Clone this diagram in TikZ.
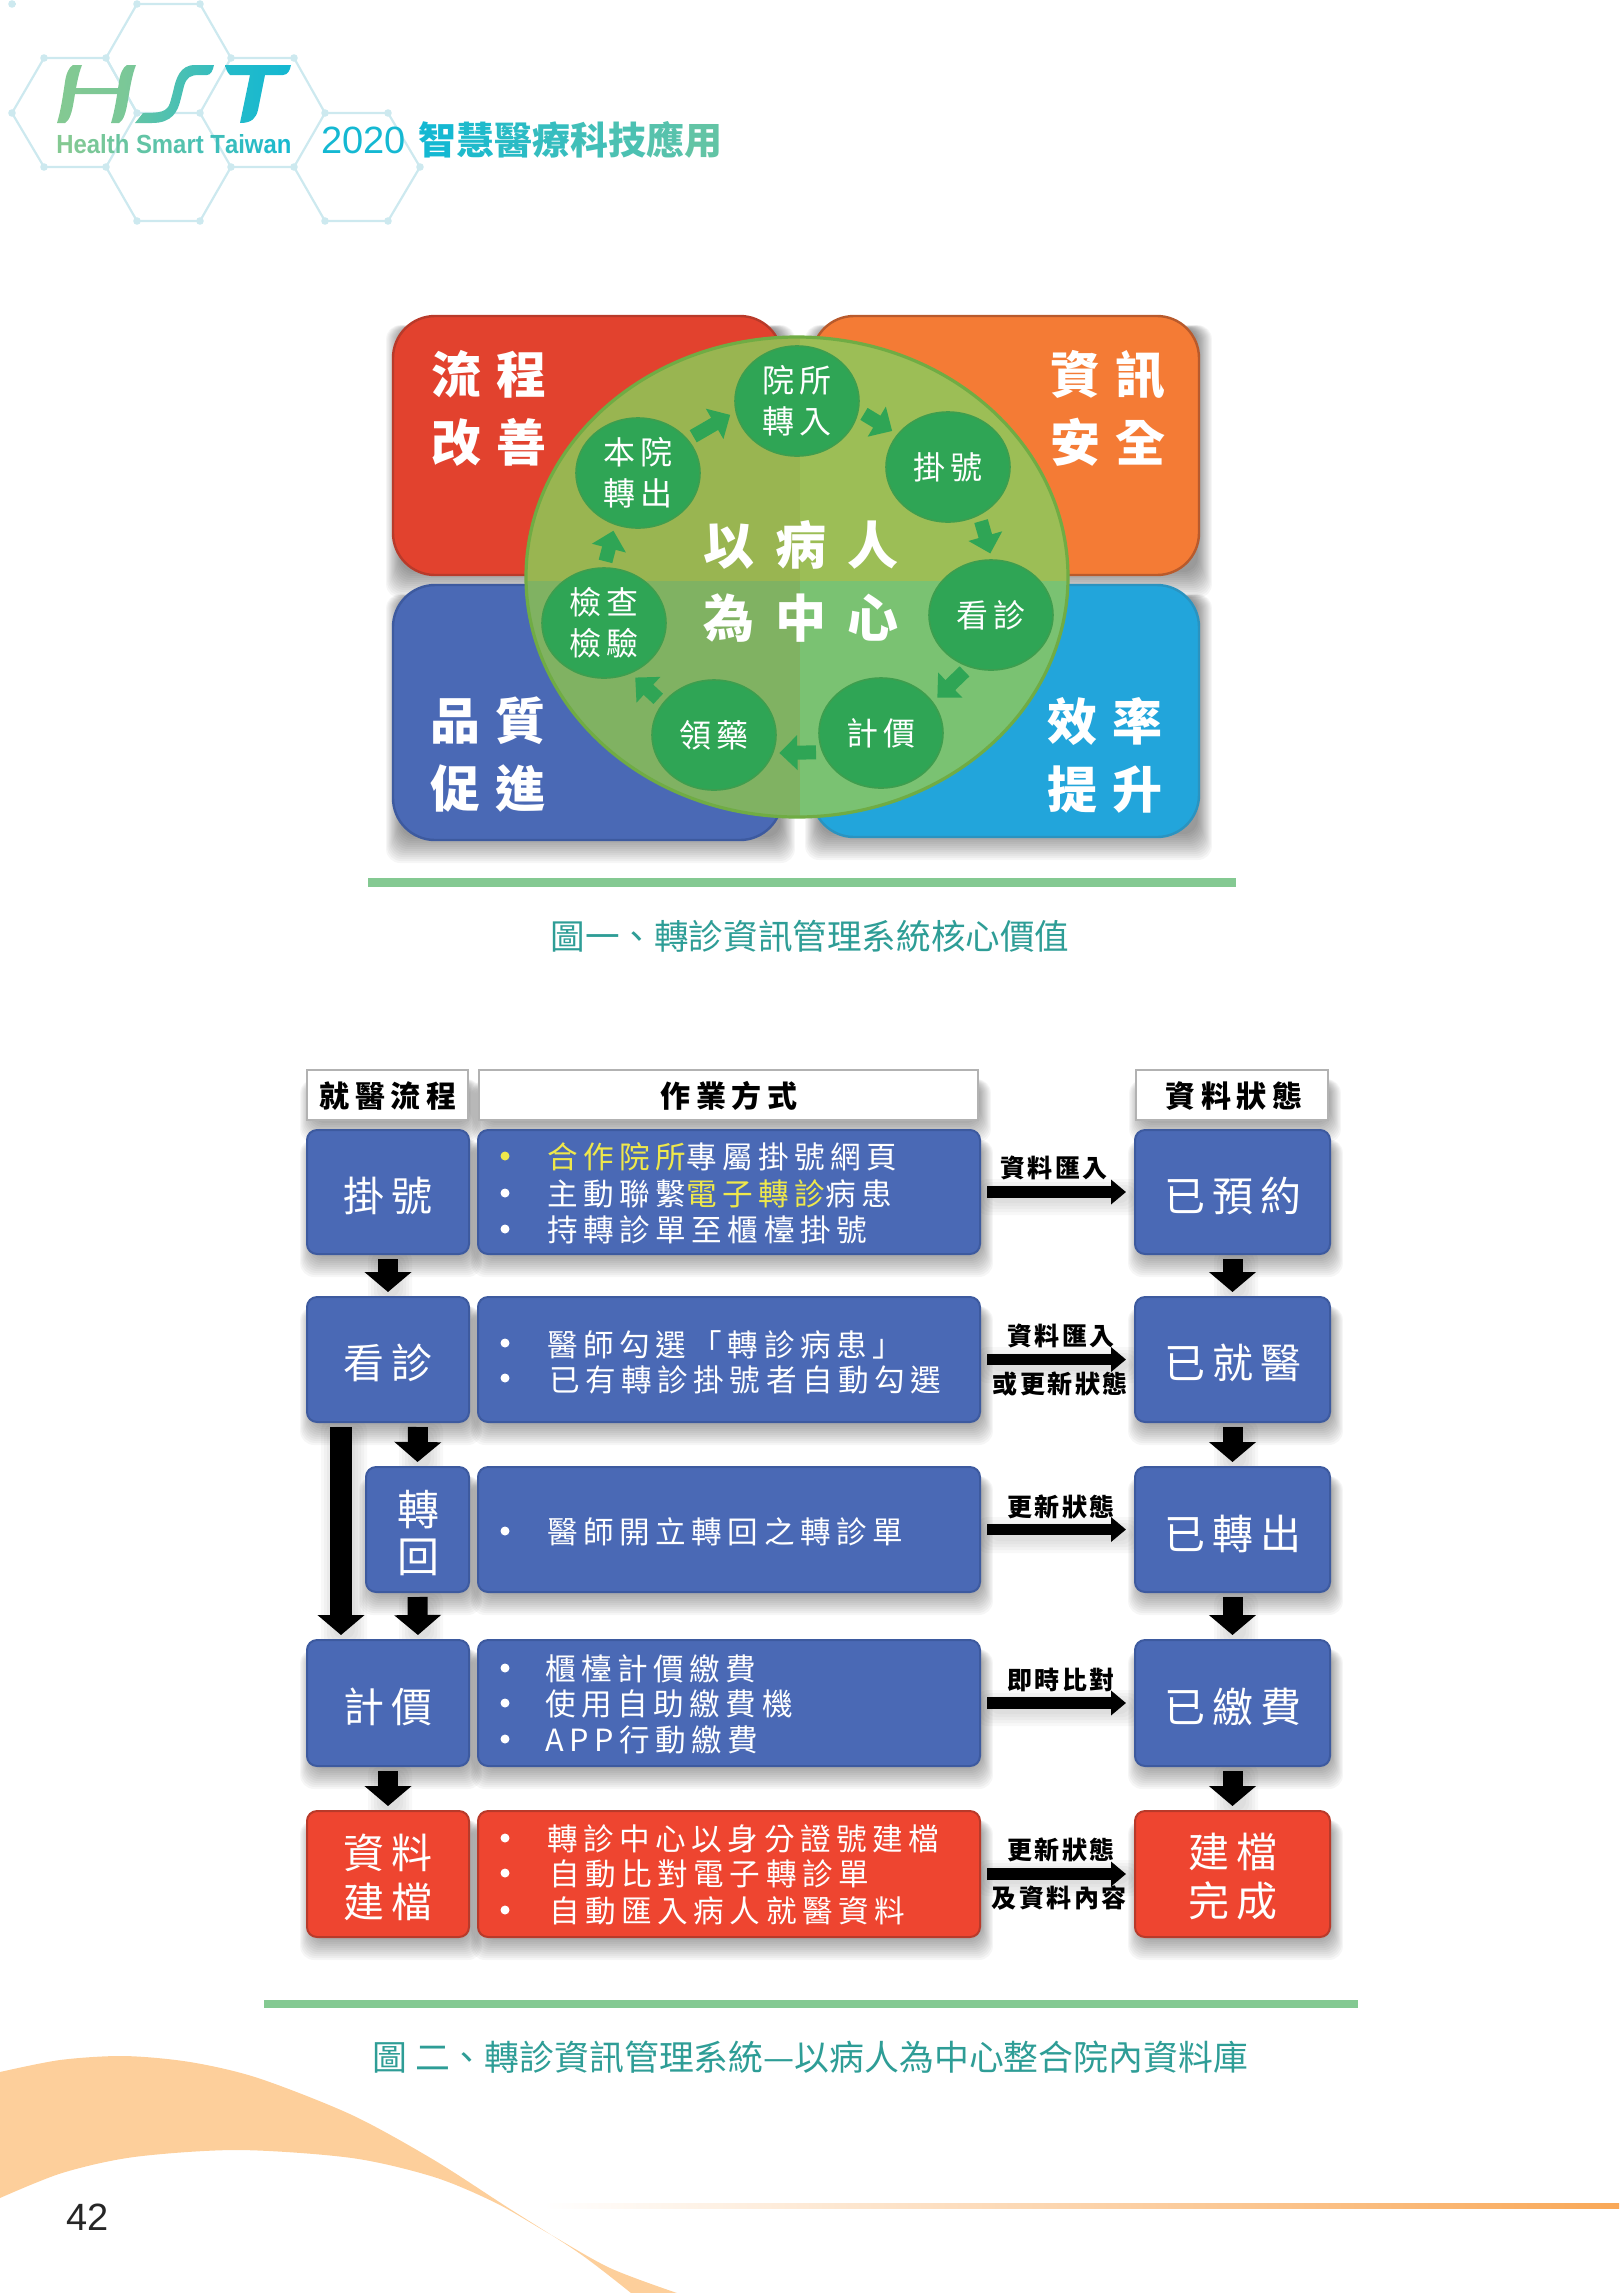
\documentclass[tikz,border=0pt]{standalone}
\usepackage{fontspec}
\usepackage{graphicx}
\usetikzlibrary{arrows.meta,shapes.geometric}
\setmainfont{Noto Sans CJK TC}
\newfontfamily\cjka[LetterSpace=10]{Noto Sans CJK TC}
\newfontfamily\cjkb[LetterSpace=18]{Noto Sans CJK TC}
\newfontfamily\cjkc[LetterSpace=30]{Noto Sans CJK TC}
\newfontfamily\cjkd[LetterSpace=42]{Noto Sans CJK TC}
\newfontfamily\arial{Liberation Sans}
\definecolor{hexc}{HTML}{CDE9EF}
\definecolor{lgreen}{HTML}{84C992}
\definecolor{lcyan}{HTML}{14B8D2}
\definecolor{capc}{HTML}{2E9D96}
\definecolor{peach}{HTML}{FDCF9B}
\definecolor{orangeL}{HTML}{F9A857}
\definecolor{bfill}{HTML}{4A69B5}
\definecolor{bline}{HTML}{3D5A9F}
\definecolor{rfill}{HTML}{EE4530}
\definecolor{rline}{HTML}{B83A2A}
\definecolor{ofill}{HTML}{F47B35}
\definecolor{oline}{HTML}{B85A2C}
\definecolor{sfill}{HTML}{22A5DB}
\definecolor{sline}{HTML}{2A93C0}
\definecolor{yel}{HTML}{EFE84B}
\definecolor{cfill}{HTML}{2FA555}
\definecolor{cline}{HTML}{3E9E4E}
\newcommand{\gl}[2]{\textcolor{lcyan!#1!lgreen}{#2}}
\newcommand{\softshadow}[4]{%
  \foreach \e in {-8,-6,...,18}{%
    \fill[black,opacity=.034,rounded corners=7pt] ({#1-.55*\e+3},{#2-.1*\e+11}) rectangle ({#3+.55*\e+3},{#4+\e+5});}}
\newcommand{\softarrow}[4]{%
  \foreach \e in {0,3,6,9,12}{%
    \fill[black,opacity=.026,rounded corners=5pt] ({#1-\e+3},{#2-\e+5}) rectangle ({#3+\e+3},{#4+\e+5});}}
\tikzset{
  hexline/.style={hexc,line width=1.1pt},
  corner/.style={rectangle,rounded corners=21pt,line width=1.2pt,inner sep=0pt},
  rbox/.style={rectangle,rounded corners=5pt,fill=bfill,draw=bline,line width=1pt,inner sep=0pt},
  redbox/.style={rbox,fill=rfill,draw=rline},
  headbox/.style={rectangle,fill=white,draw=black!30,line width=1.2pt,inner sep=0pt},
  cnode/.style={ellipse,fill=cfill,draw=cline,line width=.8pt,inner sep=0pt,minimum width=62pt,minimum height=55pt,text=white,align=center,font=\cjkb\fontsize{16pt}{20.5pt}\selectfont},
  garrow/.style={draw=cfill,line width=7pt,-{Triangle[length=9pt,width=17pt]},shorten <=3pt,shorten >=3pt},
  vblock/.style={draw=black,line width=10pt,-{Triangle[length=10pt,width=23pt]},shorten <=2pt,shorten >=2pt},
  hblock/.style={draw=black,line width=5.8pt,-{Triangle[length=7.5pt,width=12pt]},shorten <=3pt,shorten >=4pt},
  bigl/.style={text=white,inner sep=0pt,align=center,font=\cjkc\fontsize{25pt}{34pt}\selectfont\bfseries},
  corel/.style={text=white,inner sep=0pt,align=center,font=\cjkd\fontsize{25.5pt}{36.5pt}\selectfont\bfseries},
  boxl/.style={text=white,inner sep=0pt,align=center,font=\cjkb\fontsize{20.5pt}{24.5pt}\selectfont},
  headl/.style={text=black,inner sep=0pt,font=\cjkb\fontsize{15pt}{18pt}\selectfont\bfseries},
  linel/.style={text=white,inner sep=0pt,anchor=west,font=\cjkb\fontsize{15.3pt}{18pt}\selectfont},
  bull/.style={circle,fill=white,inner sep=0pt,minimum size=4.5pt},
  arrl/.style={text=black,inner sep=0pt,font=\cjka\fontsize{12.5pt}{14pt}\selectfont\bfseries},
  capl/.style={text=capc,inner sep=0pt,font=\fontsize{17.3pt}{20pt}\selectfont},
}
\begin{document}
\begin{tikzpicture}[x=0.5pt,y=-0.5pt]
\useasboundingbox (0,0) rectangle (1621,2293);
% ---------- hexagon lattice
\draw[hexline] (137,4)--(200,4)--(231,58)--(200,113)--(137,113)--(106,58)--cycle;
\draw[hexline] (44,58)--(106,58)--(137,113)--(106,167)--(44,167)--(12,113)--cycle;
\draw[hexline] (231,58)--(294,58)--(325,113)--(294,167)--(231,167)--(200,113);
\draw[hexline] (106,167)--(137,221)--(200,221)--(231,167);
\draw[hexline] (294,167)--(325,221)--(388,221)--(420,167)--(388,113)--(325,113);
\draw[hexline] (12,4)--(16,4);
\foreach \p in {(12,4),(137,4),(200,4),(44,58),(106,58),(231,58),(294,58),(12,113),(137,113),(200,113),(325,113),(388,113),(44,167),(106,167),(231,167),(294,167),(420,167),(137,221),(200,221),(325,221),(388,221)}
  \fill[hexc] \p circle (3.8);
% ---------- HST logo
\shade[left color=lgreen,right color=lgreen!90!lcyan]
  (82,65) .. controls (78,75) and (76,88) .. (74,100) .. controls (72,112) and (70,120) .. (65,123) -- (57,123) .. controls (61,110) and (63,95) .. (65,82) .. controls (66,74) and (69,67) .. (73,65) -- cycle
  (136,65) .. controls (132,75) and (130,88) .. (128,100) .. controls (126,112) and (124,120) .. (119,123) -- (111,123) .. controls (115,110) and (117,95) .. (119,82) .. controls (120,74) and (123,67) .. (127,65) -- cycle
  (70,88) -- (129,88) -- (128,94) -- (69,94) -- cycle;
\shade[left color=lgreen!70!lcyan,right color=lgreen!30!lcyan]
  (214,65) -- (195,65) .. controls (180,65) and (176,78) .. (173,92) -- (170,103) .. controls (167,112) and (160,113) .. (143,113) -- (135,123) -- (152,123) .. controls (172,123) and (178,112) .. (181,98) -- (184,86) .. controls (187,77) and (190,75) .. (200,75) -- (207,75) .. controls (211,75) and (213,70) .. (214,65) -- cycle;
\shade[left color=lgreen!15!lcyan,right color=lcyan]
  (225,65) -- (291,65) .. controls (290,70) and (288,75) .. (283,75) -- (265,75) -- (258,110) .. controls (256,118) and (252,123) .. (240,123) -- (250,75) -- (230,75) .. controls (227,72) and (226,69) .. (225,65) -- cycle;
\node[inner sep=0pt,anchor=west] (tagline) at (56,144) {\resizebox{117.5pt}{9.5pt}{\arial\bfseries\fontsize{13pt}{15pt}\selectfont
 \gl{0}{H}\gl{4}{e}\gl{9}{a}\gl{13}{l}\gl{17}{t}\gl{22}{h} \gl{30}{S}\gl{36}{m}\gl{42}{a}\gl{48}{r}\gl{54}{t} \gl{62}{T}\gl{68}{a}\gl{74}{i}\gl{80}{w}\gl{88}{a}\gl{95}{n}}};
\node[inner sep=0pt,anchor=west,text=lcyan,font=\arial\fontsize{19pt}{22pt}\selectfont] (year) at (321,140) {2020};
\node[inner sep=0pt,anchor=west,font=\fontsize{19pt}{22pt}\selectfont\bfseries] (booktitle) at (418,140) {\gl{100}{智}\gl{90}{慧}\gl{80}{醫}\gl{70}{療}\gl{60}{科}\gl{50}{技}\gl{40}{應}\gl{30}{用}};
% ---------- figure 1 boxes
\softshadow{393}{316}{782}{575}
\softshadow{812}{316}{1199}{575}
\softshadow{393}{585}{782}{840}
\softshadow{812}{585}{1199}{837}
\node[corner,fill=rfill!95!black,draw=rline,minimum width=194.5pt,minimum height=129.5pt] (qa) at (587.5,445.5) {};
\node[corner,fill=ofill,draw=oline,minimum width=193.5pt,minimum height=129.5pt] (qb) at (1005.5,445.5) {};
\node[corner,fill=bfill,draw=bline,minimum width=194.5pt,minimum height=127.5pt] (qc) at (587.5,712.5) {};
\node[corner,fill=sfill,draw=sline,minimum width=193.5pt,minimum height=126pt] (qd) at (1005.5,711) {};
\node[bigl] (qal) at (489,408) {流程\\改善};
\node[bigl] (qbl) at (1108,408) {資訊\\安全};
\node[bigl] (qcl) at (488,755) {品質\\促進};
\node[bigl] (qdl) at (1105,755) {效率\\提升};
% ---------- central disc
\begin{scope}
  \clip (797,577) ellipse [x radius=271, y radius=240];
  \fill[color={rgb,255:red,153;green,181;blue,81}] (500,300) rectangle (800,581);
  \fill[color={rgb,255:red,156;green,190;blue,86}] (800,300) rectangle (1100,581);
  \fill[color={rgb,255:red,128;green,178;blue,98}] (500,581) rectangle (800,850);
  \fill[color={rgb,255:red,122;green,194;blue,114}] (800,581) rectangle (1100,850);
\end{scope}
\draw[color={rgb,255:red,112;green,172;blue,68},line width=1.6pt] (797,577) ellipse [x radius=271, y radius=240];
\node[cnode] (ina) at (797,401) {院所\\轉入};
\node[cnode] (reg) at (948,467) {掛號};
\node[cnode] (see) at (991,615) {看診};
\node[cnode] (pay) at (881,733) {計價};
\node[cnode] (med) at (714,735) {領藥};
\node[cnode] (lab) at (604,623) {檢查\\檢驗};
\node[cnode] (out) at (638,473) {本院\\轉出};
\draw[garrow] (out.34) -- (ina.190);
\draw[garrow] (ina.-9) -- (reg.147);
\draw[garrow] (reg.-57) -- (see.89);
\draw[garrow] (see.-113) -- (pay.31);
\draw[garrow] (pay.198) -- (med.-17);
\draw[garrow] (med.148) -- (lab.-62);
\draw[garrow] (lab.90) -- (out.-114);
\node[corel] (core) at (801,581) {以病人\\為中心};
\fill[lgreen] (368,878) rectangle (1236,887);
\node[capl] (cap1) at (810,936) {圖一、轉診資訊管理系統核心價值};
% ---------- figure 2 shadows
\softshadow{307}{1070}{468}{1120}
\softshadow{479}{1070}{978}{1120}
\softshadow{1136}{1070}{1328}{1120}
\softshadow{307}{1130}{469}{1254}
\softshadow{478}{1130}{980}{1254}
\softshadow{1135}{1130}{1330}{1254}
\softshadow{307}{1297}{469}{1422}
\softshadow{478}{1297}{980}{1422}
\softshadow{1135}{1297}{1330}{1422}
\softshadow{366}{1467}{469}{1592}
\softshadow{478}{1467}{980}{1592}
\softshadow{1135}{1467}{1330}{1592}
\softshadow{307}{1640}{469}{1766}
\softshadow{478}{1640}{980}{1766}
\softshadow{1135}{1640}{1330}{1766}
\softshadow{307}{1811}{469}{1937}
\softshadow{478}{1811}{980}{1937}
\softshadow{1135}{1811}{1330}{1937}
\softarrow{986}{1186}{1127}{1198}
\softarrow{986}{1354}{1127}{1366}
\softarrow{986}{1524}{1127}{1536}
\softarrow{986}{1697}{1127}{1709}
\softarrow{986}{1867}{1127}{1879}
\softarrow{377}{1256}{397}{1292}
\softarrow{1223}{1256}{1243}{1292}
\softarrow{408}{1427}{428}{1463}
\softarrow{1223}{1427}{1243}{1463}
\softarrow{330}{1427}{352}{1634}
\softarrow{408}{1597}{428}{1634}
\softarrow{1223}{1600}{1243}{1636}
\softarrow{377}{1770}{397}{1806}
\softarrow{1223}{1770}{1243}{1806}
% ---------- headers
\node[headbox,minimum width=80.5pt,minimum height=25pt] (h1) at (387.5,1095) {};
\node[headbox,minimum width=249.5pt,minimum height=25pt] (h2) at (728.5,1095) {};
\node[headbox,minimum width=96pt,minimum height=25pt] (h3) at (1232,1095) {};
\node[headl] (h1l) at (388,1096) {就醫流程};
\node[headl] (h2l) at (729,1096) {作業方式};
\node[headl] (h3l) at (1234,1096) {資料狀態};
% ---------- rows
\node[rbox,minimum width=81pt,minimum height=62pt] (la) at (388,1192) {};
\node[rbox,minimum width=251pt,minimum height=62pt] (ma) at (729,1192) {};
\node[rbox,minimum width=97.5pt,minimum height=62pt] (ra) at (1232.5,1192) {};
\node[rbox,minimum width=81pt,minimum height=62.5pt] (lb) at (388,1359.5) {};
\node[rbox,minimum width=251pt,minimum height=62.5pt] (mb) at (729,1359.5) {};
\node[rbox,minimum width=97.5pt,minimum height=62.5pt] (rb) at (1232.5,1359.5) {};
\node[rbox,minimum width=51.5pt,minimum height=62.5pt] (lc) at (417.5,1529.5) {};
\node[rbox,minimum width=251pt,minimum height=62.5pt] (mc) at (729,1529.5) {};
\node[rbox,minimum width=97.5pt,minimum height=62.5pt] (rc) at (1232.5,1529.5) {};
\node[rbox,minimum width=81pt,minimum height=63pt] (ld) at (388,1703) {};
\node[rbox,minimum width=251pt,minimum height=63pt] (md) at (729,1703) {};
\node[rbox,minimum width=97.5pt,minimum height=63pt] (rd) at (1232.5,1703) {};
\node[redbox,minimum width=81pt,minimum height=63pt] (le) at (388,1874) {};
\node[redbox,minimum width=251pt,minimum height=63pt] (me) at (729,1874) {};
\node[redbox,minimum width=97.5pt,minimum height=63pt] (re) at (1232.5,1874) {};
% ---------- box labels
\node[boxl] (lal) at (388,1196) {掛號};
\node[boxl] (ral) at (1233,1196) {已預約};
\node[boxl] (lbl) at (388,1363) {看診};
\node[boxl] (rbl) at (1233,1363) {已就醫};
\node[boxl,font=\cjka\fontsize{21pt}{23.5pt}\selectfont] (lcl) at (418,1533) {轉\\回};
\node[boxl] (rcl) at (1233,1534) {已轉出};
\node[boxl] (ldl) at (388,1707) {計價};
\node[boxl] (rdl) at (1233,1707) {已繳費};
\node[boxl] (lel) at (388,1877) {資料\\建檔};
\node[boxl] (rel) at (1233,1877) {建檔\\完成};
% ---------- row text
\node[bull,fill=yel] (ba1) at (505,1156) {};
\node[linel] (ta1) at (547,1157) {\textcolor{yel}{合作院所}專屬掛號網頁};
\node[bull] (ba2) at (505,1193) {};
\node[linel] (ta2) at (547,1194) {主動聯繫\textcolor{yel}{電子轉診}病患};
\node[bull] (ba3) at (505,1229) {};
\node[linel] (ta3) at (547,1230) {持轉診單至櫃檯掛號};
\node[bull] (bb1) at (505,1343) {};
\node[linel] (tb1) at (547,1345) {醫師勾選「轉診病患」};
\node[bull] (bb2) at (505,1378) {};
\node[linel] (tb2) at (549,1380) {已有轉診掛號者自動勾選};
\node[bull] (bc1) at (505,1531) {};
\node[linel] (tc1) at (547,1532) {醫師開立轉回之轉診單};
\node[bull] (bd1) at (505,1668) {};
\node[linel] (td1) at (545,1669) {櫃檯計價繳費};
\node[bull] (bd2) at (505,1703) {};
\node[linel] (td2) at (545,1704) {使用自助繳費機};
\node[bull] (bd3) at (505,1739) {};
\node[linel] (td3) at (545,1740) {APP行動繳費};
\node[bull] (be1) at (505,1838) {};
\node[linel] (te1) at (547,1839) {轉診中心以身分證號建檔};
\node[bull] (be2) at (505,1873) {};
\node[linel] (te2) at (549,1874) {自動比對電子轉診單};
\node[bull] (be3) at (505,1910) {};
\node[linel] (te3) at (549,1911) {自動匯入病人就醫資料};
% ---------- vertical arrows
\draw[vblock] (la.south) -- (lb.north);
\draw[vblock] (ra.south) -- (rb.north);
\draw[vblock] ([xshift=15pt]lb.south) -- (lc.north);
\draw[vblock] (rb.south) -- (rc.north);
\draw[vblock,line width=11pt] ([xshift=-23.5pt]lb.south) -- ([xshift=-23.5pt]ld.north);
\draw[vblock] (lc.south) -- ([xshift=15pt]ld.north);
\draw[vblock] (rc.south) -- (rd.north);
\draw[vblock] (ld.south) -- (le.north);
\draw[vblock] (rd.south) -- (re.north);
% ---------- horizontal arrows
\draw[hblock] (ma.east) -- (ra.west);
\draw[hblock] (mb.east) -- (rb.west);
\draw[hblock] (mc.east) -- (rc.west);
\draw[hblock] (md.east) -- (rd.west);
\draw[hblock] (me.east) -- (re.west);
\node[arrl] (xa) at (1054,1168) {資料匯入};
\node[arrl] (xb) at (1061,1336) {資料匯入};
\node[arrl] (xc) at (1060,1384) {或更新狀態};
\node[arrl] (xd) at (1061,1507) {更新狀態};
\node[arrl] (xe) at (1061,1680) {即時比對};
\node[arrl] (xf) at (1061,1850) {更新狀態};
\node[arrl] (xg) at (1059,1898) {及資料內容};
\fill[lgreen] (264,2000) rectangle (1358,2008);
\node[capl,anchor=west,font=\fontsize{17.43pt}{20pt}\selectfont] (cap2) at (372,2057) {圖 二、轉診資訊管理系統—以病人為中心整合院內資料庫};
% ---------- page furniture
\fill[peach] plot[smooth] coordinates {(0,2072) (60,2060) (124,2056) (190,2062) (258,2078) (352,2115) (434,2160) (507,2207) (579,2253) (631,2293)}
  -- plot[smooth] coordinates {(677,2293) (610,2268) (548,2233) (496,2203) (434,2177) (352,2158) (238,2150) (134,2157) (62,2173) (0,2198)} -- cycle;
\shade[left color=white,right color=orangeL] (543,2203) rectangle (1619,2208);
\node[inner sep=0pt,text=black!85,font=\arial\fontsize{19pt}{22pt}\selectfont] (pageno) at (88,2217) {42};
\end{tikzpicture}
\end{document}
